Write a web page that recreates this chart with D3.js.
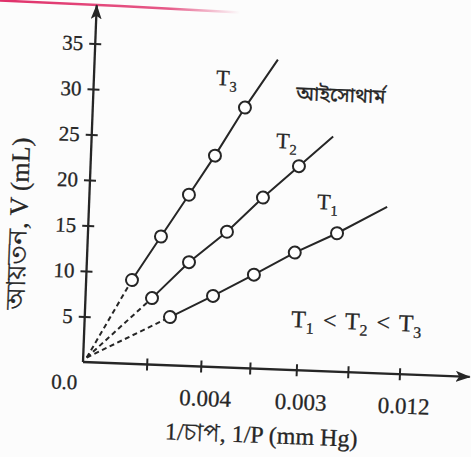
<!DOCTYPE html>
<html>
<head>
<meta charset="utf-8">
<script src="https://cdn.jsdelivr.net/npm/d3@7"></script>
<style>
  body { margin: 0; background: #fcfcfc; }
  svg { display: block; }
  text { stroke: #262626; stroke-width: 0.3px; }
</style>
</head>
<body>
<svg id="chart" width="471" height="457"></svg>
<script>
// Isotherms: volume V (mL) against 1/P, three temperatures T1 < T2 < T3
const seriesNames = ["T3", "T2", "T1"];
const t3X = [0.905, 1.445, 1.966, 2.45, 3.006];
const t3V = [9.2, 14.1, 18.8, 23.2, 28.6];
const t2X = [1.314, 2.018, 2.745, 3.43, 4.117];
const t2V = [7.3, 11.4, 14.9, 18.8, 22.4];
const t1X = [1.684, 2.518, 3.31, 4.10, 4.92];
const t1V = [5.3, 7.8, 10.3, 12.9, 15.2];
// where each solid line stops beyond its last reading
const lineEndX = [3.62, 4.77, 5.89];
const lineEndV = [34.0, 25.8, 18.3];

const yTicks = [5, 10, 15, 20, 25, 30, 35];
const xTickPos = [1.26, 2.33, 3.30, 4.22, 5.24, 6.26];
const xTickLabels = ["", "0.004", "", "0.003", "", "0.012"];

const serif = "'Liberation Serif', 'Times New Roman', serif";
const bangla = "'Noto Sans Bengali', 'Noto Serif Bengali', 'Lohit Bengali', 'Liberation Serif', serif";
const ink = "#262626";

const svg = d3.select("#chart");

// slight tilt of the whole printed figure
const tilt = 2.2, ox = 83, oy = 362;
const rad = tilt * Math.PI / 180;
function flat(px, py) {
  const dx = px - ox, dy = py - oy;
  return [ox + dx * Math.cos(rad) + dy * Math.sin(rad),
          oy - dx * Math.sin(rad) + dy * Math.cos(rad)];
}

// red rule along the top edge of the page
const defs = svg.append("defs");
const grad = defs.append("linearGradient")
  .attr("id", "redFade").attr("x1", "0").attr("x2", "1");
grad.append("stop").attr("offset", "0").attr("stop-color", "#e0306a").attr("stop-opacity", 1);
grad.append("stop").attr("offset", "0.7").attr("stop-color", "#e0306a").attr("stop-opacity", 0.8);
grad.append("stop").attr("offset", "1").attr("stop-color", "#e0306a").attr("stop-opacity", 0);
svg.append("path")
  .attr("d", "M0,0.5 L120,6 L240,12.5")
  .attr("fill", "none").attr("stroke", "url(#redFade)").attr("stroke-width", 2.4);

defs.append("marker")
  .attr("id", "arrow").attr("viewBox", "0 0 15 11")
  .attr("refX", 14).attr("refY", 5.5)
  .attr("markerWidth", 15).attr("markerHeight", 11)
  .attr("markerUnits", "userSpaceOnUse").attr("orient", "auto")
  .append("path").attr("d", "M0,0 L15,5.5 L0,11 L3.5,5.5 Z").attr("fill", ink);

const g = svg.append("g").attr("transform", `rotate(${tilt},${ox},${oy})`);

const x = d3.scaleLinear().domain([0, 7.65]).range([ox, ox + 387]);
const y = d3.scaleLinear().domain([0, 39.2]).range([oy, oy - 357]);

// axes with arrowheads
g.append("line")
  .attr("x1", x(0)).attr("y1", y(0)).attr("x2", x(0)).attr("y2", y(39.2))
  .attr("stroke", ink).attr("stroke-width", 2.3).attr("marker-end", "url(#arrow)");
g.append("line")
  .attr("x1", x(0)).attr("y1", y(0)).attr("x2", x(7.65)).attr("y2", y(0))
  .attr("stroke", ink).attr("stroke-width", 2.3).attr("marker-end", "url(#arrow)");

const yAxis = g.append("g").attr("transform", `translate(${x(0)},0)`)
  .call(d3.axisLeft(y).tickValues(yTicks).tickSize(6).tickPadding(10));
yAxis.select(".domain").remove();
yAxis.selectAll(".tick line").attr("x1", -6).attr("x2", 6)
  .attr("stroke", ink).attr("stroke-width", 2);
yAxis.selectAll(".tick text").attr("font-family", serif).attr("font-size", 21)
  .attr("fill", ink).attr("x", -12);

const xAxis = g.append("g").attr("transform", `translate(0,${y(0)})`)
  .call(d3.axisBottom(x).tickValues(xTickPos)
    .tickFormat((d, i) => xTickLabels[i]).tickSize(6).tickPadding(17));
xAxis.select(".domain").remove();
xAxis.selectAll(".tick line").attr("y1", -6).attr("y2", 6)
  .attr("stroke", ink).attr("stroke-width", 2);
xAxis.selectAll(".tick text").attr("font-family", serif).attr("font-size", 23)
  .attr("fill", ink).attr("dx", 5);

// origin label
{
  const [px, py] = flat(64, 389);
  g.append("text").attr("x", px).attr("y", py).attr("text-anchor", "middle")
    .attr("font-family", serif).attr("font-size", 21).attr("fill", ink).text("0.0");
}

// isotherm lines and readings
const series = [
  { xs: t3X, vs: t3V }, { xs: t2X, vs: t2V }, { xs: t1X, vs: t1V }
];
const lineGen = d3.line().x(d => x(d[0])).y(d => y(d[1]));
series.forEach((s, k) => {
  const pts = s.xs.map((xv, i) => [xv, s.vs[i]]);
  g.append("path")
    .attr("d", lineGen([[0.07, 0.5], pts[0]]))
    .attr("fill", "none").attr("stroke", ink).attr("stroke-width", 2)
    .attr("stroke-dasharray", "5,3.5");
  g.append("path")
    .attr("d", lineGen(pts.concat([[lineEndX[k], lineEndV[k]]])))
    .attr("fill", "none").attr("stroke", ink).attr("stroke-width", 2);
  g.selectAll(null).data(pts).join("circle")
    .attr("cx", d => x(d[0])).attr("cy", d => y(d[1])).attr("r", 6)
    .attr("fill", "#fff").attr("stroke", ink).attr("stroke-width", 2);
});

// temperature labels
function tLabel(px, py, sub, size) {
  const [lx, ly] = flat(px, py);
  const t = g.append("text").attr("x", lx).attr("y", ly)
    .attr("font-family", serif).attr("font-size", size).attr("fill", ink);
  t.append("tspan").text("T");
  t.append("tspan").attr("font-size", size * 0.66).attr("dy", 6).text(sub);
}
tLabel(216, 85, "3", 22);
tLabel(276, 148, "2", 22);
tLabel(317, 209, "1", 22);

// T1 < T2 < T3
{
  const [lx, ly] = flat(291, 327);
  const t = g.append("text").attr("x", lx).attr("y", ly)
    .attr("font-family", serif).attr("font-size", 24).attr("fill", ink)
    .attr("word-spacing", 3);
  const parts = [["T", 0], ["1", 6], [" < T", -6], ["2", 6], [" < T", -6], ["3", 6]];
  parts.forEach(([s, dy], i) => {
    const sp = t.append("tspan").text(s).attr("dy", dy);
    if (i % 2 === 1) sp.attr("font-size", 16);
  });
}

// isotherm caption
{
  const [lx, ly] = flat(296, 100);
  g.append("text").attr("x", lx).attr("y", ly)
    .attr("font-family", bangla).attr("font-size", 20).attr("fill", ink)
    .text("আইসোথার্ম");
}

// axis titles
{
  const [lx, ly] = flat(261, 443);
  g.append("text").attr("x", lx).attr("y", ly).attr("text-anchor", "middle")
    .attr("font-family", serif).attr("font-size", 24).attr("fill", ink)
    .text("1/চাপ, 1/P (mm Hg)");
}
{
  const [lx, ly] = flat(27, 224);
  g.append("text").attr("transform", `translate(${lx},${ly}) rotate(-90)`)
    .attr("text-anchor", "middle")
    .attr("font-family", serif).attr("font-size", 26).attr("fill", ink)
    .text("আয়তন, V (mL)");
}
</script>
</body>
</html>
